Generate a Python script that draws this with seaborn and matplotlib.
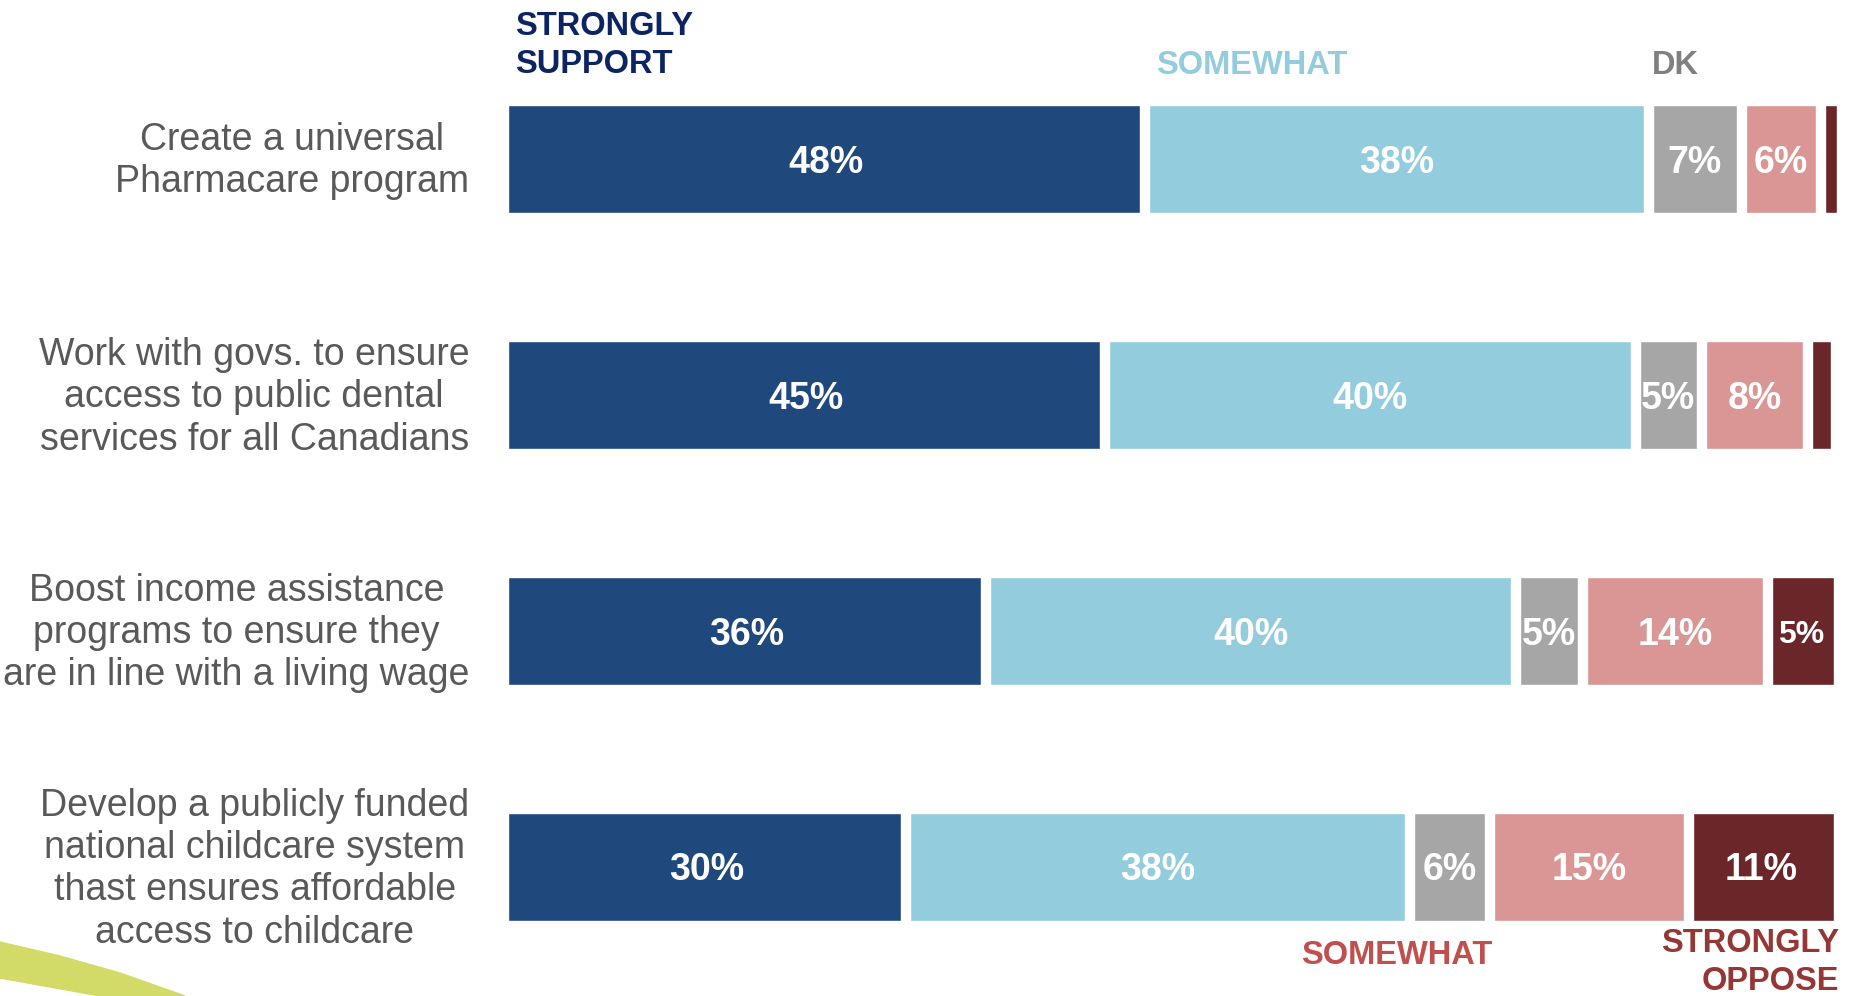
import matplotlib.pyplot as plt
from matplotlib.patches import Polygon
import seaborn as sns

sns.set_theme(style='white')
plt.rcParams['font.family'] = ['Liberation Sans', 'DejaVu Sans']

categories = ['Create a universal\nPharmacare program',
              'Work with govs. to ensure\naccess to public dental\nservices for all Canadians',
              'Boost income assistance\nprograms to ensure they\nare in line with a living wage',
              'Develop a publicly funded\nnational childcare system\nthast ensures affordable\naccess to childcare']
strongly_support = [48, 45, 36, 30]
somewhat_support = [38, 40, 40, 38]
dont_know = [7, 5, 5, 6]
somewhat_oppose = [6, 8, 14, 15]
strongly_oppose = [1.2, 1.8, 5, 11]

series = [strongly_support, somewhat_support, dont_know, somewhat_oppose, strongly_oppose]
colors = ['#1f497d', '#93cddd', '#a6a6a6', '#d99694', '#6a2629']

fig = plt.figure(figsize=(18.57, 9.96), dpi=100)
ax = fig.add_axes([508/1857, 0, 1326/1857, 1])
ax.set_xlim(0, 100)
ax.set_ylim(3.547, -0.674)
ax.axis('off')

gap = 0.68
dy = 0.015  # va='center' sits a touch high for caps-only text
for r in range(len(categories)):
    left = 0
    for k, vals in enumerate(series):
        v = vals[r]
        l = left + (gap / 2 if k > 0 else 0)
        w = v - (gap / 2 if k > 0 else 0) - (gap / 2 if k < len(series) - 1 else 0)
        ax.barh(r, w, left=l, height=0.458, color=colors[k], clip_on=False)
        # the thin oppose slivers in the first two rows carry no label
        if v >= 3:
            fs = 23 if (k == len(series) - 1 and v < 8) else 27
            ax.text(left + v / 2, r + dy, f'{v:g}%', ha='center', va='center',
                    color='white', fontsize=fs, fontweight='bold')
        left += v
    ax.text(-2.9, r + 0.01, categories[r], ha='right', va='center', multialignment='center',
            fontsize=27, color='#595959', linespacing=1.22)

# column headers
hdr = dict(fontsize=23.5, fontweight='bold', va='center')
ax.text(0.5, -0.496 + dy, 'STRONGLY\nSUPPORT', ha='left', color='#0c2461', linespacing=1.3, **hdr)
ax.text(48.9, -0.411 + dy, 'SOMEWHAT', ha='left', color='#93cddd', **hdr)
ax.text(86.3, -0.411 + dy, 'DK', ha='left', color='#808080', **hdr)
ax.text(59.8, 3.36 + dy, 'SOMEWHAT', ha='left', color='#c0504d', **hdr)
ax.text(100.4, 3.405, 'STRONGLY\nOPPOSE', ha='right', multialignment='right',
        color='#953735', linespacing=1.28, **hdr)

# green swoosh in the corner of the slide
pts = [(0, 942), (60, 956), (120, 973), (185, 996), (100, 996), (50, 987), (0, 978)]
fig.patches.append(Polygon([(x / 1857, 1 - y / 996) for x, y in pts], closed=True,
                           transform=fig.transFigure, color='#d2da68', zorder=0))

fig.savefig('out.png', dpi=100)
